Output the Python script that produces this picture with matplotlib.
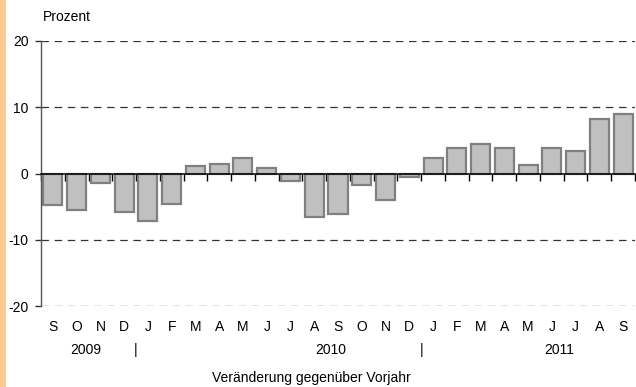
import matplotlib.pyplot as plt
import matplotlib.patches as mpatches
import numpy as np

plt.rcParams['font.family'] = ['Liberation Sans', 'DejaVu Sans']

# Monthly change versus previous year, Sep 2009 - Sep 2011
months = ['S', 'O', 'N', 'D', 'J', 'F', 'M', 'A', 'M', 'J', 'J', 'A', 'S',
          'O', 'N', 'D', 'J', 'F', 'M', 'A', 'M', 'J', 'J', 'A', 'S']
change = [-4.8, -5.5, -1.5, -5.8, -7.1, -4.6, 1.2, 1.5, 2.3, 0.8, -1.2, -6.6, -6.1,
          -1.7, -4.0, -0.6, 2.3, 3.9, 4.4, 3.9, 1.3, 3.8, 3.4, 8.3, 9.0]
years = ['2009', '2010', '2011']
year_pos = [1.4, 11.7, 21.3]
year_breaks = [3.5, 15.5]
y_ticks = [-20, -10, 0, 10, 20]

fs = 10

fig = plt.figure(figsize=(6.36, 3.87), dpi=100)
ax = fig.add_axes([41 / 636, 1 - 306 / 387, 594 / 636, 265 / 387])

# orange strip on the left edge
fig.patches.append(mpatches.Rectangle((0, 0), 6 / 636, 1, transform=fig.transFigure,
                                      facecolor='#fdc993', edgecolor='none'))

x = np.arange(len(months))
ax.bar(x, change, width=0.8, color='#c0c0c0', edgecolor='#808080', linewidth=1.6, zorder=2)

ax.set_xlim(-0.5, len(months) - 0.5)
ax.set_ylim(-20, 20)

for v in [-20, -10, 10, 20]:
    ax.axhline(v, color='#333333', linewidth=0.9, dashes=(6, 4.5), zorder=1)

ax.spines['top'].set_visible(False)
ax.spines['right'].set_visible(False)
ax.spines['left'].set_color('#555555')
ax.spines['left'].set_linewidth(1.0)
ax.spines['bottom'].set_position(('data', 0))
ax.spines['bottom'].set_color('black')
ax.spines['bottom'].set_linewidth(1.1)
ax.spines['bottom'].set_zorder(3)

ax.set_yticks(y_ticks)
ax.set_yticklabels([str(v) for v in y_ticks], fontsize=fs)
ax.tick_params(axis='y', length=4, width=1, color='#333333', pad=5)

ax.set_xticks(np.arange(len(months) + 1) - 0.5)
ax.set_xticklabels([])
ax.tick_params(axis='x', length=5, width=1, color='black', direction='out')

# month labels, years and separators below the plot
trans = ax.get_xaxis_transform()
for i, m in enumerate(months):
    ax.text(i, -0.079, m, transform=trans, ha='center', va='center', fontsize=fs)
for pos, yr in zip(year_pos, years):
    ax.text(pos, -0.166, yr, transform=trans, ha='center', va='center', fontsize=fs)
for b in year_breaks:
    ax.text(b, -0.166, '|', transform=trans, ha='center', va='center', fontsize=fs)

fig.text(311 / 636, 1 - 378 / 387, 'Veränderung gegenüber Vorjahr',
         ha='center', va='center', fontsize=fs)
fig.text(43 / 636, 1 - 17 / 387, 'Prozent', ha='left', va='center', fontsize=fs)

fig.savefig('out.png', dpi=100)
